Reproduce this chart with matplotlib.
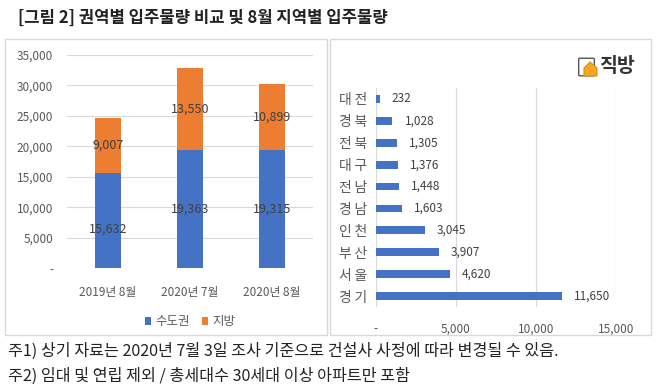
import matplotlib.pyplot as plt
from matplotlib.patches import Rectangle, FancyBboxPatch, Polygon
import numpy as np

plt.rcParams['font.family'] = ['Noto Sans CJK KR', 'DejaVu Sans']

# left chart: 권역별 입주물량
periods = ["2019년 8월", "2020년 7월", "2020년 8월"]
metro = [15632, 19363, 19315]
local = [9007, 13550, 10899]
y_ticks = [0, 5000, 10000, 15000, 20000, 25000, 30000, 35000]

# right chart: 8월 지역별 입주물량
regions = ["대전", "경북", "전북", "대구", "전남", "경남", "인천", "부산", "서울", "경기"]
region_vals = [232, 1028, 1305, 1376, 1448, 1603, 3045, 3907, 4620, 11650]
x_ticks = [0, 5000, 10000, 15000]

BLUE = "#4472C4"
ORANGE = "#ED7D31"
TICK = "#595959"
LABEL = "#404040"
GRID = "#D9D9D9"
W, H = 660, 388


def fmt(v):
    return "-" if v == 0 else f"{v:,}"


def px(x0, y0, x1, y1):
    # pixel box (top-left origin) -> figure rect
    return [x0 / W, 1 - y1 / H, (x1 - x0) / W, (y1 - y0) / H]


fig = plt.figure(figsize=(6.6, 3.88), dpi=100)

# panel frames
for x0, x1 in [(5, 327), (330, 651)]:
    fig.patches.append(Rectangle((x0 / W, 1 - 335 / H), (x1 - x0) / W, (335 - 39) / H,
                                 transform=fig.transFigure, fill=False, edgecolor=GRID, lw=1))

fig.text(18 / W, 1 - 18 / H, "[그림 2] 권역별 입주물량 비교 및 8월 지역별 입주물량",
         fontsize=12, fontweight="bold", color="#222222", va="center", ha="left")

# ---- left stacked bars
ax1 = fig.add_axes(px(67, 55, 313, 268))
x = np.arange(len(periods))
ax1.bar(x, metro, width=0.32, color=BLUE, label="수도권", zorder=3)
ax1.bar(x, local, width=0.32, bottom=metro, color=ORANGE, label="지방", zorder=3)
for i in range(len(periods)):
    ax1.text(x[i], metro[i] / 2 - (1500 if i == 0 else 0), fmt(metro[i]), ha="center", va="center",
             fontsize=9, color=LABEL, zorder=4)
    ax1.text(x[i], metro[i] + local[i] / 2, fmt(local[i]), ha="center", va="center",
             fontsize=9, color=LABEL, zorder=4)
ax1.set_xlim(-0.5, 2.5)
ax1.set_ylim(0, 35000)
ax1.set_yticks(y_ticks)
ax1.set_yticklabels([fmt(v) for v in y_ticks])
ax1.set_xticks(x)
ax1.set_xticklabels(periods)
ax1.grid(axis="y", color=GRID, lw=0.8, zorder=0)
for s in ax1.spines.values():
    s.set_visible(False)
ax1.tick_params(axis="y", length=0, labelsize=8.5, labelcolor=TICK, pad=10)
ax1.tick_params(axis="x", length=0, labelsize=8.5, labelcolor=TICK, pad=13)
ax1.legend(loc="upper center", bbox_to_anchor=(0.5, -0.17), ncol=2, frameon=False,
           fontsize=9, handlelength=0.5, handleheight=0.5, handletextpad=0.3,
           columnspacing=1.0, labelcolor=TICK)

# ---- right horizontal bars
ax2 = fig.add_axes(px(376, 88, 616, 307))
y = np.arange(len(regions))
ax2.barh(y, region_vals, height=0.36, color=BLUE, zorder=3)
for i, v in enumerate(region_vals):
    ax2.text(v + 750, y[i], fmt(v), ha="left", va="center", fontsize=8.5, color=LABEL)
ax2.set_ylim(len(regions) - 0.5, -0.5)
ax2.set_xlim(0, 15000)
ax2.set_xticks(x_ticks)
ax2.set_xticklabels([fmt(v) for v in x_ticks])
ax2.set_yticks(y)
ax2.set_yticklabels(["\u2009".join(r) for r in regions])
ax2.grid(axis="x", color=GRID, lw=0.8, zorder=0)
for s in ax2.spines.values():
    s.set_visible(False)
ax2.tick_params(axis="x", length=0, labelsize=8.5, labelcolor=TICK, pad=11)
ax2.tick_params(axis="y", length=0, labelsize=10, labelcolor=TICK, pad=6)

# logo
fig.patches.append(FancyBboxPatch((580 / W, 1 - 75 / H), 13 / W, 16 / H,
                                  boxstyle="round,pad=0.002", transform=fig.transFigure,
                                  facecolor="white", edgecolor="#555555", lw=1))
fig.patches.append(Polygon([(584 / W, 1 - 76 / H), (584 / W, 1 - 68 / H), (590 / W, 1 - 62 / H),
                            (597 / W, 1 - 68 / H), (597 / W, 1 - 76 / H)], closed=True,
                           transform=fig.transFigure, facecolor="#F5A623", edgecolor="#E08E0B", lw=0.8))
fig.text(599 / W, 1 - 67 / H, "직방", fontsize=14, fontweight="bold", color="#333333",
         va="center", ha="left")

# footnotes
fig.text(8 / W, 1 - 351 / H, "주1) 상기 자료는 2020년 7월 3일 조사 기준으로 건설사 사정에 따라 변경될 수 있음.",
         fontsize=11.6, color="#222222", va="center", ha="left")
fig.text(8 / W, 1 - 376 / H, "주2) 임대 및 연립 제외 / 총세대수 30세대 이상 아파트만 포함",
         fontsize=11.6, color="#222222", va="center", ha="left")

fig.savefig("out.png", dpi=100)
